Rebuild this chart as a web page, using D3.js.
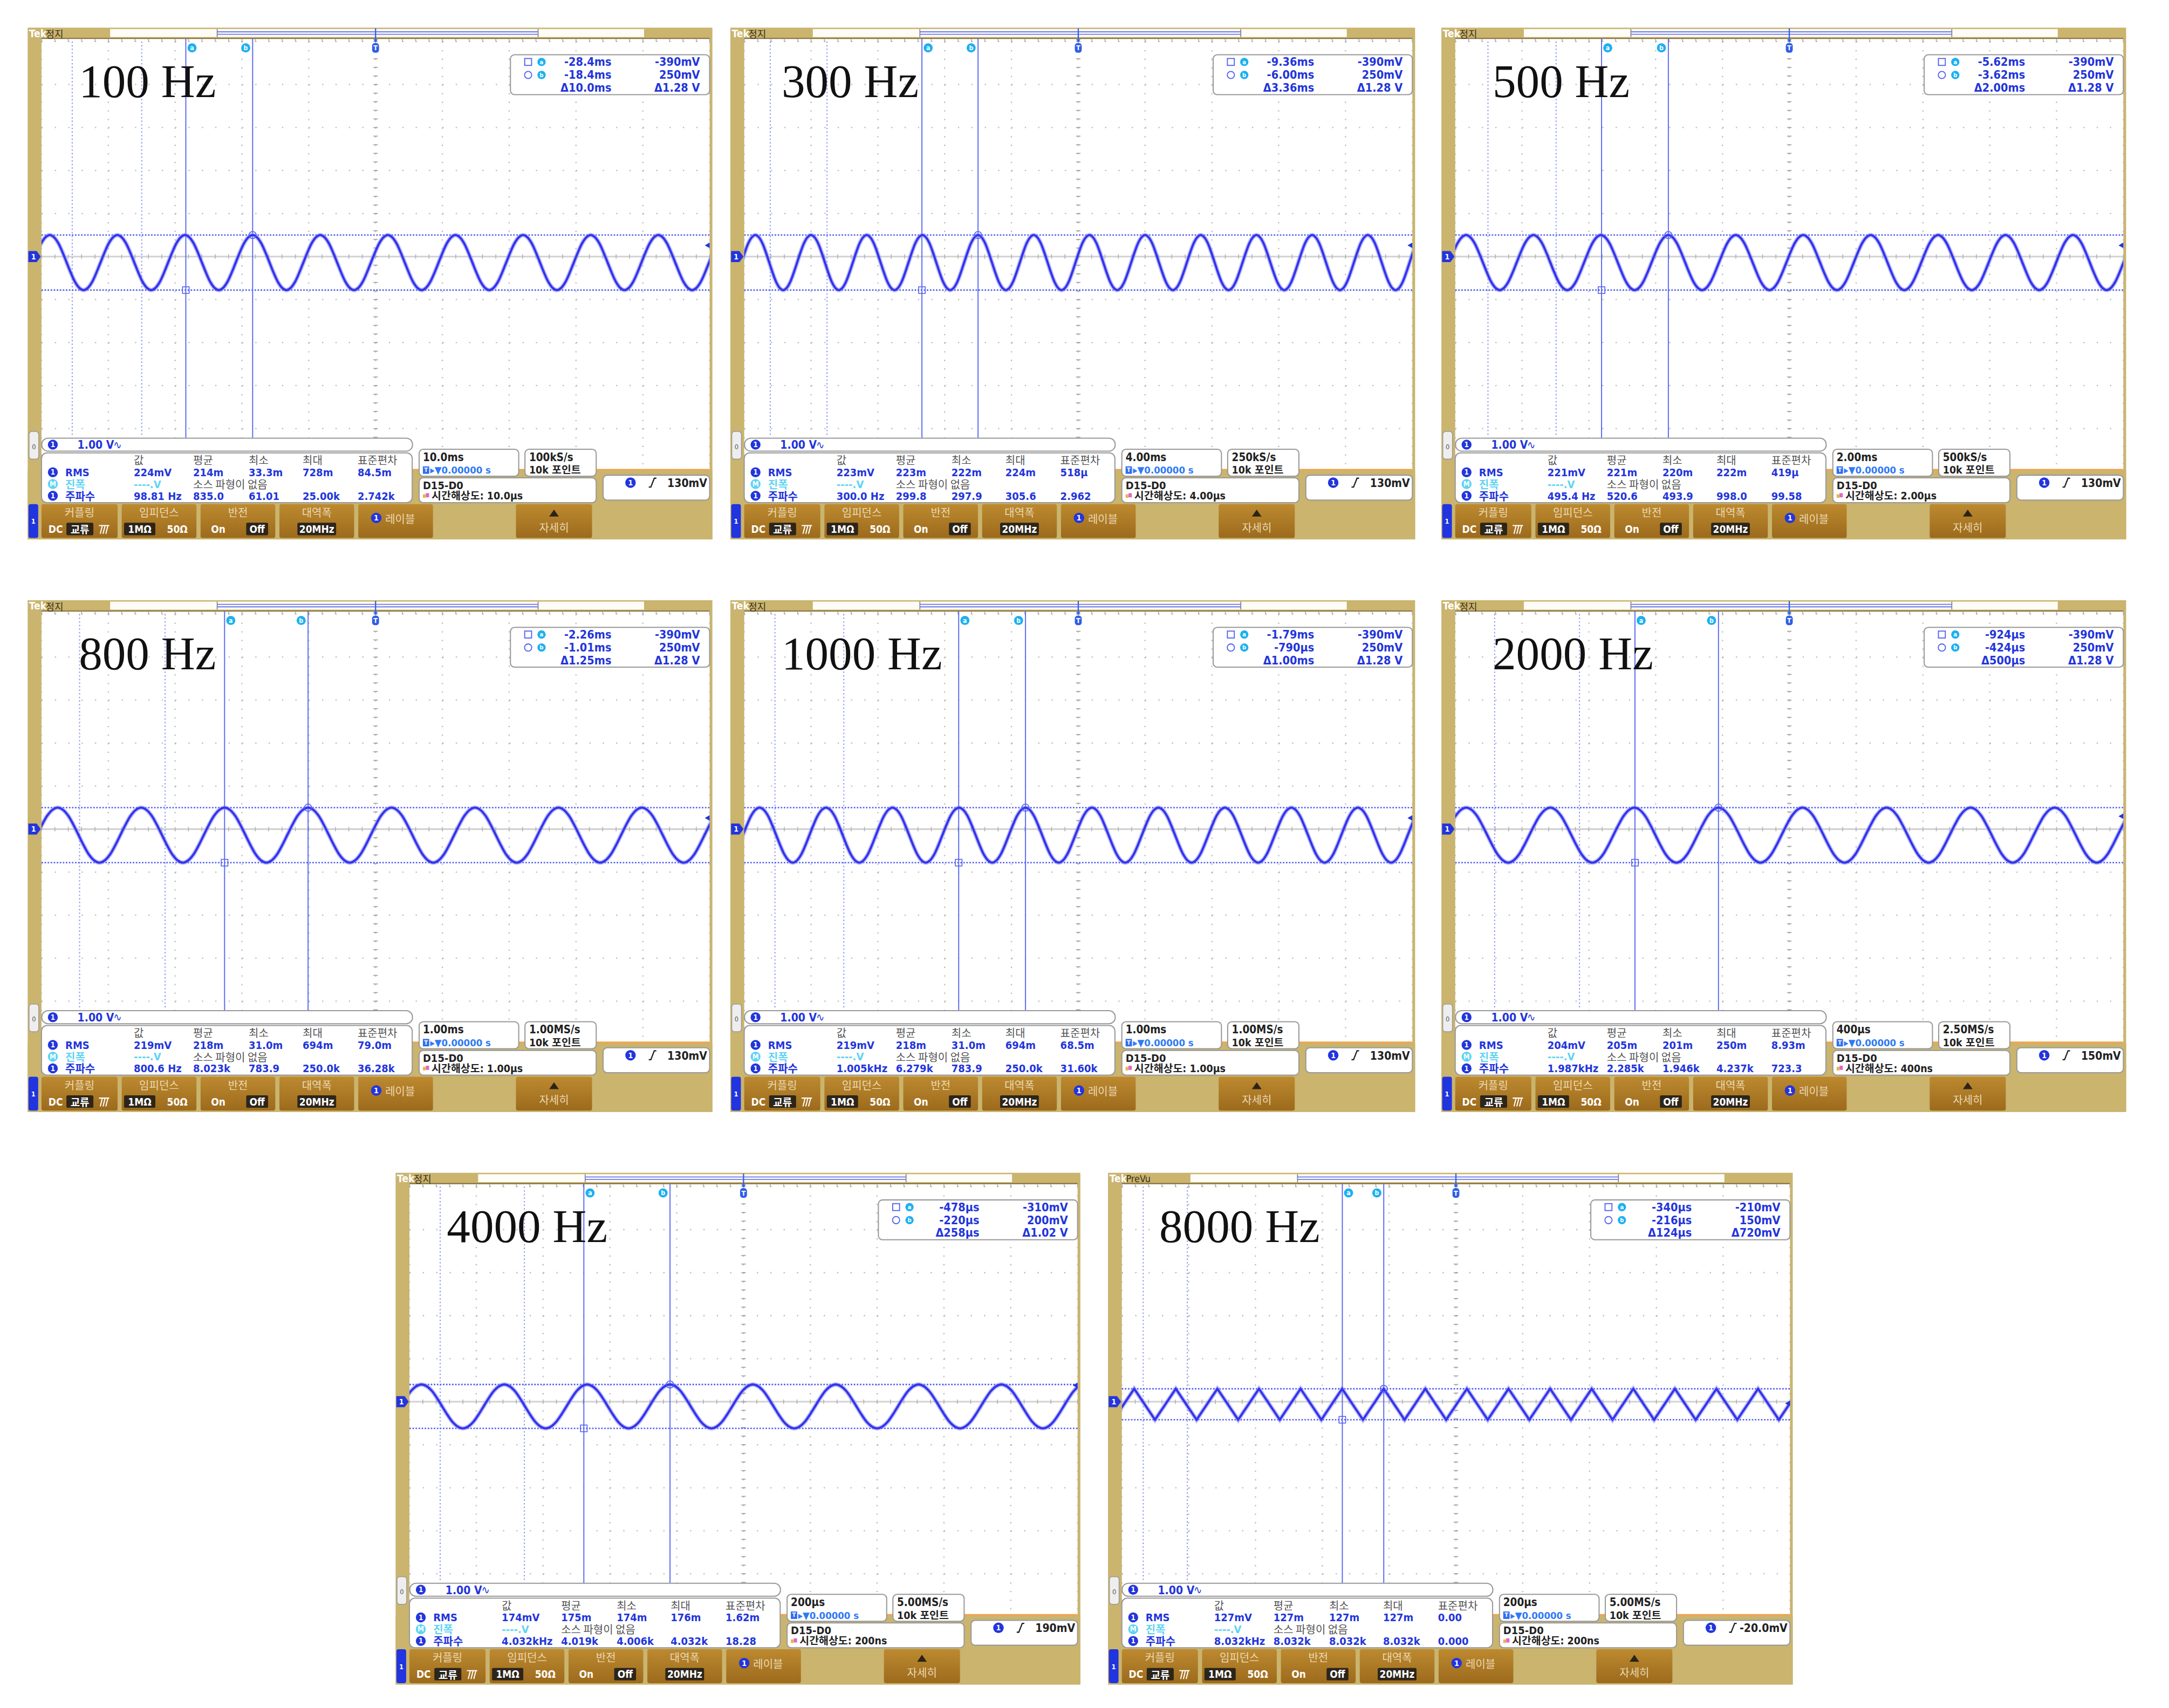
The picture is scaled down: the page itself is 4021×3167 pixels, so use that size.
<!DOCTYPE html>
<html>
<head>
<meta charset="utf-8">
<script src="https://cdn.jsdelivr.net/npm/d3@7"></script>
<style>
  body { margin: 0; background: #fff; }
  svg { display: block; }
  .ui { font-family: "DejaVu Sans Condensed", "DejaVu Sans", "Noto Sans CJK KR", sans-serif; font-stretch: condensed; }
  .kr { font-family: "Noto Sans CJK KR", "DejaVu Sans", sans-serif; }
  .big { font-family: "Liberation Serif", "Times New Roman", serif; }
</style>
</head>
<body>
<svg id="chart"></svg>
<script>
// ---- data read from the eight scope captures ----
const freqLabels = ["100 Hz", "300 Hz", "500 Hz", "800 Hz", "1000 Hz", "2000 Hz", "4000 Hz", "8000 Hz"];
const stateLabels = ["정지", "정지", "정지", "정지", "정지", "정지", "정지", "PreVu"];
const timePerDiv = [10e-3, 4e-3, 2e-3, 1e-3, 1e-3, 400e-6, 200e-6, 200e-6];
const timeDivText = ["10.0ms", "4.00ms", "2.00ms", "1.00ms", "1.00ms", "400µs", "200µs", "200µs"];
const sampleRateText = ["100kS/s", "250kS/s", "500kS/s", "1.00MS/s", "1.00MS/s", "2.50MS/s", "5.00MS/s", "5.00MS/s"];
const resolutionText = ["10.0µs", "4.00µs", "2.00µs", "1.00µs", "1.00µs", "400ns", "200ns", "200ns"];
const triggerText = ["130mV", "130mV", "130mV", "130mV", "130mV", "150mV", "190mV", "-20.0mV"];
const triggerLevel = [0.13, 0.13, 0.13, 0.13, 0.13, 0.15, 0.19, -0.02];
const measuredFreq = [98.81, 300.0, 495.4, 800.6, 1005, 1987, 4032, 8032];
const waveShape = ["sine", "sine", "sine", "sine", "sine", "sine", "sine", "triangle"];

// cursor readouts (a = trough line, b = crest line)
const cursorATime = [-28.4e-3, -9.36e-3, -5.62e-3, -2.26e-3, -1.79e-3, -924e-6, -478e-6, -340e-6];
const cursorBTime = [-18.4e-3, -6.00e-3, -3.62e-3, -1.01e-3, -790e-6, -424e-6, -220e-6, -216e-6];
const cursorAVolt = [-0.39, -0.39, -0.39, -0.39, -0.39, -0.39, -0.31, -0.21];
const cursorBVolt = [0.25, 0.25, 0.25, 0.25, 0.25, 0.25, 0.20, 0.15];
const cursorATimeText = ["-28.4ms", "-9.36ms", "-5.62ms", "-2.26ms", "-1.79ms", "-924µs", "-478µs", "-340µs"];
const cursorBTimeText = ["-18.4ms", "-6.00ms", "-3.62ms", "-1.01ms", "-790µs", "-424µs", "-220µs", "-216µs"];
const cursorDTimeText = ["Δ10.0ms", "Δ3.36ms", "Δ2.00ms", "Δ1.25ms", "Δ1.00ms", "Δ500µs", "Δ258µs", "Δ124µs"];
const cursorAVoltText = ["-390mV", "-390mV", "-390mV", "-390mV", "-390mV", "-390mV", "-310mV", "-210mV"];
const cursorBVoltText = ["250mV", "250mV", "250mV", "250mV", "250mV", "250mV", "200mV", "150mV"];
const cursorDVoltText = ["Δ1.28 V", "Δ1.28 V", "Δ1.28 V", "Δ1.28 V", "Δ1.28 V", "Δ1.28 V", "Δ1.02 V", "Δ720mV"];

// light blue reference markers, in divisions from the left edge
const refMarkDiv = [[0.46, 1.5], [0.39, 1.24], [0.49, 1.51], [0.57, 1.85], [0.46, 1.49], [0.59, 1.86], [0.46, 1.72], [0.32, 0.98]];

// measurement table: 값, 평균, 최소, 최대, 표준편차
const measHeaders = ["값", "평균", "최소", "최대", "표준편차"];
const rmsRow = [
  ["224mV", "214m", "33.3m", "728m", "84.5m"],
  ["223mV", "223m", "222m", "224m", "518µ"],
  ["221mV", "221m", "220m", "222m", "419µ"],
  ["219mV", "218m", "31.0m", "694m", "79.0m"],
  ["219mV", "218m", "31.0m", "694m", "68.5m"],
  ["204mV", "205m", "201m", "250m", "8.93m"],
  ["174mV", "175m", "174m", "176m", "1.62m"],
  ["127mV", "127m", "127m", "127m", "0.00"]
];
const freqRow = [
  ["98.81 Hz", "835.0", "61.01", "25.00k", "2.742k"],
  ["300.0 Hz", "299.8", "297.9", "305.6", "2.962"],
  ["495.4 Hz", "520.6", "493.9", "998.0", "99.58"],
  ["800.6 Hz", "8.023k", "783.9", "250.0k", "36.28k"],
  ["1.005kHz", "6.279k", "783.9", "250.0k", "31.60k"],
  ["1.987kHz", "2.285k", "1.946k", "4.237k", "723.3"],
  ["4.032kHz", "4.019k", "4.006k", "4.032k", "18.28"],
  ["8.032kHz", "8.032k", "8.032k", "8.032k", "0.000"]
];

// one period of the trace, starting at the crest
const sineCycle = [1, 0.92, 0.71, 0.38, 0, -0.38, -0.71, -0.92, -1, -0.92, -0.71, -0.38, 0, 0.38, 0.71, 0.92];
const triangleCycle = [1, 0.5, 0, -0.5, -1, -0.5, 0, 0.5];

// ---- layout ----
const k = 4021 / 1568;
const panelOrigin = [[20, 18], [528, 18], [1042, 18], [20, 432], [528, 432], [1042, 432], [286, 846], [801, 846]];

const GOLD = "#cab46e", GOLD_LINE = "#86703c", BLUE = "#2335dc", TRACE = "#3434ee",
      CURSOR = "#5a68f2", CYAN = "#1eb0f0", DARK = "#222", BOX_STROKE = "#999";

const svg = d3.select("#chart").attr("width", 4021).attr("height", 3167);
svg.append("rect").attr("width", 4021).attr("height", 3167).attr("fill", "#fff");

const defs = svg.append("defs");
const grad = defs.append("linearGradient").attr("id", "btnGrad").attr("x1", 0).attr("y1", 0).attr("x2", 0).attr("y2", 1);
grad.append("stop").attr("offset", "0%").attr("stop-color", "#bd8a30");
grad.append("stop").attr("offset", "100%").attr("stop-color", "#9c6a1c");

function chanBadge(g, x, y, r, label, fill) {
  g.append("circle").attr("cx", x).attr("cy", y).attr("r", r).attr("fill", fill);
  g.append("text").attr("class", "ui").attr("x", x).attr("y", y + r * 0.5)
    .attr("text-anchor", "middle").attr("font-size", r * 1.45).attr("font-weight", "bold")
    .attr("fill", "#fff").text(label);
}

function box(g, x, y, w, h, rx) {
  g.append("rect").attr("x", x).attr("y", y).attr("width", w).attr("height", h)
    .attr("rx", rx).attr("fill", "#fff").attr("stroke", BOX_STROKE).attr("stroke-width", 0.8);
}

function txt(g, x, y, s, size, fill, opts = {}) {
  return g.append("text").attr("class", opts.cls || "ui").attr("x", x).attr("y", y)
    .attr("font-size", size).attr("fill", fill)
    .attr("font-weight", opts.weight || "bold")
    .attr("text-anchor", opts.anchor || "start")
    .attr("dominant-baseline", "central").text(s);
}

function drawPanel(i) {
  const [ox, oy] = panelOrigin[i];
  const g = svg.append("g").attr("transform", `translate(${ox * k},${oy * k}) scale(${k})`);
  const td = timePerDiv[i];

  const x = d3.scaleLinear().domain([-5 * td, 5 * td]).range([10, 493]);
  // on-screen 1.00 V/div shows the readout values doubled, so 0.5 readout-V per division
  const y = d3.scaleLinear().domain([-2.5, 2.5]).range([323, 12]);

  // frame
  g.append("rect").attr("x", 0).attr("y", 2).attr("width", 495).attr("height", 370).attr("fill", GOLD);
  g.append("rect").attr("x", 10).attr("y", 10).attr("width", 483).attr("height", 312).attr("fill", "#fff");
  g.append("line").attr("x1", 10).attr("x2", 493).attr("y1", 9.8).attr("y2", 9.8)
    .attr("stroke", GOLD_LINE).attr("stroke-width", 0.8);

  // top bar
  txt(g, 1, 6.2, "Tek", 7.5, "#fff");
  txt(g, 13, 6.2, stateLabels[i], 7, "#3b321c", { cls: stateLabels[i] === "PreVu" ? "ui" : "kr", weight: "normal" });
  g.append("rect").attr("x", 59.6).attr("y", 3).attr("width", 386).attr("height", 5.8).attr("fill", "#fdfcf6");
  [137, 369].forEach(v => g.append("line").attr("x1", v).attr("x2", v).attr("y1", 3).attr("y2", 8.8)
    .attr("stroke", "#777").attr("stroke-width", 0.6));
  [5, 6.8].forEach(v => g.append("line").attr("x1", 137).attr("x2", 369).attr("y1", v).attr("y2", v)
    .attr("stroke", "#6b78f2").attr("stroke-width", 0.7));

  // grid
  const grid = g.append("g");
  const vDivs = d3.range(11).map(j => -5 * td + j * td);
  const hDivs = d3.range(11).map(j => -2.5 + j * 0.5);
  const minorY = (y(-2.5) - y(2.5)) / 50, minorX = (x(5 * td) - x(-5 * td)) / 50;
  grid.selectAll(".vg").data(vDivs).join("line")
    .attr("x1", d => x(d)).attr("x2", d => x(d)).attr("y1", 12).attr("y2", 323)
    .attr("stroke", "#b9b9b9").attr("stroke-width", 0.9)
    .attr("stroke-dasharray", `0.9 ${minorY - 0.9}`);
  grid.selectAll(".hg").data(hDivs).join("line")
    .attr("x1", 10).attr("x2", 493).attr("y1", d => y(d)).attr("y2", d => y(d))
    .attr("stroke", "#b9b9b9").attr("stroke-width", 0.9)
    .attr("stroke-dasharray", `0.9 ${minorX - 0.9}`);
  // centre crosshair and edge ticks
  grid.append("line").attr("x1", 10).attr("x2", 493).attr("y1", y(0)).attr("y2", y(0))
    .attr("stroke", "#d2d2d2").attr("stroke-width", 1.2);
  grid.selectAll(".ty").data(d3.range(51)).join("line")
    .attr("x1", x(0) - 1.6).attr("x2", x(0) + 1.6)
    .attr("y1", d => 12 + d * minorY).attr("y2", d => 12 + d * minorY)
    .attr("stroke", "#9c9c9c").attr("stroke-width", 0.6);
  grid.selectAll(".tx").data(d3.range(51)).join("line")
    .attr("x1", d => 10 + d * minorX).attr("x2", d => 10 + d * minorX)
    .attr("y1", y(0) - 1.6).attr("y2", y(0) + 1.6)
    .attr("stroke", "#b0b0b0").attr("stroke-width", 0.6);
  grid.selectAll(".tt").data(d3.range(51)).join("line")
    .attr("x1", d => 10 + d * minorX).attr("x2", d => 10 + d * minorX)
    .attr("y1", 10).attr("y2", 12.2)
    .attr("stroke", "#a8a8a8").attr("stroke-width", 0.6);

  // reference markers
  g.selectAll(".ref").data(refMarkDiv[i]).join("line")
    .attr("x1", d => x(-5 * td + d * td)).attr("x2", d => x(-5 * td + d * td))
    .attr("y1", 12).attr("y2", 298)
    .attr("stroke", "#8c98f6").attr("stroke-width", 0.8).attr("stroke-dasharray", "1 1.6");

  // horizontal cursor lines
  [cursorAVolt[i], cursorBVolt[i]].forEach(v => g.append("line")
    .attr("x1", 10).attr("x2", 493).attr("y1", y(v)).attr("y2", y(v))
    .attr("stroke", "#4d5cf0").attr("stroke-width", 1).attr("stroke-dasharray", "1.1 1.1"));

  // vertical cursor lines
  [cursorATime[i], cursorBTime[i]].forEach(t => g.append("line")
    .attr("x1", x(t)).attr("x2", x(t)).attr("y1", 10).attr("y2", 298.8)
    .attr("stroke", CURSOR).attr("stroke-width", 0.75));

  // trace
  const clipId = "clip" + i;
  defs.append("clipPath").attr("id", clipId).append("rect")
    .attr("x", 10).attr("y", 10).attr("width", 483).attr("height", 313);
  const period = 1 / measuredFreq[i];
  const shape = waveShape[i] === "triangle" ? triangleCycle : sineCycle;
  const mid = (cursorAVolt[i] + cursorBVolt[i]) / 2;
  const amp = (cursorBVolt[i] - cursorAVolt[i]) / 2;
  const c0 = Math.floor((-5 * td - cursorBTime[i]) / period) - 1;
  const c1 = Math.ceil((5 * td - cursorBTime[i]) / period) + 1;
  const pts = [];
  for (let c = c0; c <= c1; c++) {
    shape.forEach((s, j) => pts.push([cursorBTime[i] + (c + j / shape.length) * period, mid + amp * s]));
  }
  const line = d3.line().x(d => x(d[0])).y(d => y(d[1]))
    .curve(waveShape[i] === "triangle" ? d3.curveLinear : d3.curveCatmullRom);
  const tg = g.append("g").attr("clip-path", `url(#${clipId})`);
  tg.append("path").attr("d", line(pts)).attr("fill", "none")
    .attr("stroke", "#8a8af6").attr("stroke-width", 3.2).attr("opacity", 0.5);
  tg.append("path").attr("d", line(pts)).attr("fill", "none")
    .attr("stroke", TRACE).attr("stroke-width", 1.6);

  // cursor markers on the waveform
  g.append("rect").attr("x", x(cursorATime[i]) - 2.4).attr("y", y(cursorAVolt[i]) - 2.4)
    .attr("width", 4.8).attr("height", 4.8).attr("fill", "none").attr("stroke", "#4d5cf0").attr("stroke-width", 0.6);
  g.append("circle").attr("cx", x(cursorBTime[i])).attr("cy", y(cursorBVolt[i])).attr("r", 2.6)
    .attr("fill", "none").attr("stroke", "#4d5cf0").attr("stroke-width", 0.6);

  // cursor labels and trigger marker
  chanBadge(g, x(cursorATime[i]) + 4.5, 16.6, 3.3, "a", CYAN);
  chanBadge(g, x(cursorBTime[i]) - 5, 16.6, 3.3, "b", CYAN);
  g.append("line").attr("x1", x(0)).attr("x2", x(0)).attr("y1", 2.5).attr("y2", 12)
    .attr("stroke", "#2f5fe6").attr("stroke-width", 0.9);
  g.append("path").attr("d", `M${x(0) - 1.6},10.5 L${x(0) + 1.6},10.5 L${x(0)},12.6 Z`).attr("fill", "#2f5fe6");
  g.append("rect").attr("x", x(0) - 2.5).attr("y", 13.1).attr("width", 5).attr("height", 7).attr("rx", 2).attr("fill", "#2f5fe6");
  txt(g, x(0), 16.6, "T", 5, "#fff", { anchor: "middle" });

  // ground marker and trigger level marker
  g.append("path").attr("d", `M0.5,${y(0) - 4} H6.5 L9.5,${y(0)} L6.5,${y(0) + 4} H0.5 Z`).attr("fill", BLUE);
  txt(g, 4.2, y(0), "1", 5.5, "#fff", { anchor: "middle" });
  g.append("path").attr("d", `M493,${y(triggerLevel[i]) - 2} L489.5,${y(triggerLevel[i])} L493,${y(triggerLevel[i]) + 2} Z`)
    .attr("fill", BLUE);

  // digital group marker
  g.append("rect").attr("x", 1).attr("y", 294).attr("width", 7).attr("height", 20).attr("rx", 2)
    .attr("fill", "#eee").attr("stroke", "#999").attr("stroke-width", 0.6);
  txt(g, 4.5, 305, "0", 5, "#555", { anchor: "middle", weight: "normal" });

  // frequency label
  g.append("text").attr("class", "big").attr("x", 37).attr("y", 52).attr("font-size", 34)
    .attr("fill", "#111").text(freqLabels[i]);

  // cursor readout box
  box(g, 349, 21.6, 144, 28.8, 3);
  g.append("rect").attr("x", 359.3).attr("y", 24.3).attr("width", 5).attr("height", 5)
    .attr("fill", "none").attr("stroke", "#4d5cf0").attr("stroke-width", 0.7);
  g.append("circle").attr("cx", 361.8).attr("cy", 36.2).attr("r", 2.6)
    .attr("fill", "none").attr("stroke", "#4d5cf0").attr("stroke-width", 0.7);
  chanBadge(g, 371.5, 26.8, 3, "a", CYAN);
  chanBadge(g, 371.5, 36.2, 3, "b", CYAN);
  const rows = [[cursorATimeText[i], cursorAVoltText[i]], [cursorBTimeText[i], cursorBVoltText[i]], [cursorDTimeText[i], cursorDVoltText[i]]];
  rows.forEach((r, j) => {
    txt(g, 422, 26.8 + j * 9.3, r[0], 8.4, BLUE, { anchor: "end" });
    txt(g, 486, 26.8 + j * 9.3, r[1], 8.4, BLUE, { anchor: "end" });
  });

  // bottom area background (gold below graticule)
  g.append("rect").attr("x", 0).attr("y", 322).attr("width", 495).attr("height", 50).attr("fill", GOLD);
  g.append("line").attr("x1", 278).attr("x2", 493).attr("y1", 321.6).attr("y2", 321.6)
    .attr("stroke", "#f3a24a").attr("stroke-width", 1.1);

  // channel box
  box(g, 10.2, 298.8, 268, 9.4, 4.5);
  chanBadge(g, 18.2, 303.5, 3.6, "1", BLUE);
  txt(g, 36, 303.6, "1.00 V", 8.2, BLUE);
  txt(g, 62, 303.6, "∿", 8, BLUE, { weight: "normal" });

  // measurement box
  box(g, 10, 309.5, 268, 35.9, 4);
  const cols = [76.7, 119.6, 159.8, 198.8, 238.5];
  measHeaders.forEach((h, j) => txt(g, cols[j], 314.6, h, 7.8, "#555", { cls: "kr", weight: "normal" }));
  chanBadge(g, 18.2, 323.5, 3.6, "1", BLUE);
  txt(g, 27.2, 323.6, "RMS", 7.8, BLUE);
  rmsRow[i].forEach((v, j) => txt(g, cols[j], 323.6, v, 7.8, BLUE));
  chanBadge(g, 18.2, 332, 3.6, "M", "#5fd4f2");
  txt(g, 27.2, 332, "진폭", 7.8, "#5fd4f2", { cls: "kr" });
  txt(g, 76.7, 332, "----.V", 7.8, "#5fd4f2");
  txt(g, 119.6, 332, "소스 파형이 없음", 7.8, "#555", { cls: "kr", weight: "normal" });
  chanBadge(g, 18.2, 340.5, 3.6, "1", BLUE);
  txt(g, 27.2, 340.5, "주파수", 7.8, BLUE, { cls: "kr" });
  freqRow[i].forEach((v, j) => txt(g, cols[j], 340.6, v, 7.8, BLUE));

  // timebase / sample / resolution / trigger boxes
  box(g, 283, 306.8, 72, 19.5, 3);
  txt(g, 285.7, 312.6, timeDivText[i], 8, DARK);
  g.append("rect").attr("x", 285.7).attr("y", 319.2).attr("width", 4.6).attr("height", 5.4).attr("fill", "#2f6ff0");
  txt(g, 288, 321.9, "T", 4.4, "#fff", { anchor: "middle" });
  txt(g, 291, 322, "▸▼0.00000 s", 7.2, "#2f7af5");
  box(g, 359.5, 306.8, 51.5, 19.5, 3);
  txt(g, 362.5, 312.6, sampleRateText[i], 8, DARK);
  txt(g, 362.5, 322, "10k 포인트", 7.6, DARK);
  box(g, 283, 327.5, 128, 17.9, 3);
  txt(g, 285.7, 333, "D15-D0", 7.8, DARK);
  g.append("rect").attr("x", 285.7).attr("y", 339.4).attr("width", 2).attr("height", 2.6).attr("fill", "#e7b84a");
  g.append("rect").attr("x", 287.8).attr("y", 338.6).attr("width", 2.4).attr("height", 3).attr("fill", "#e066c8");
  txt(g, 292, 340.6, "시간해상도: " + resolutionText[i], 7.6, DARK);
  box(g, 416, 325.6, 77, 18, 3);
  chanBadge(g, 435.8, 331, 3.8, "1", BLUE);
  g.append("path").attr("d", "M449,334.2 h1.5 L453,327.8 h1.5").attr("fill", "none")
    .attr("stroke", DARK).attr("stroke-width", 0.9);
  txt(g, 491.2, 331.2, triggerText[i], 8.2, DARK, { anchor: "end" });

  // bottom buttons
  g.append("rect").attr("x", 0.6).attr("y", 346.5).attr("width", 7).attr("height", 24.5).attr("rx", 1.5).attr("fill", "#2034e0");
  txt(g, 4.1, 359, "1", 5, "#fff", { anchor: "middle" });
  const btns = [[10, 55], [68, 54], [125, 54], [182, 54], [239, 54], [353, 55]];
  btns.forEach(b => g.append("rect").attr("x", b[0]).attr("y", 346.5).attr("width", b[1]).attr("height", 24.5)
    .attr("rx", 1.5).attr("fill", "url(#btnGrad)"));
  const LBL = "#ead9b4";
  const sel = (x0, w, s) => {
    g.append("rect").attr("x", x0).attr("y", 360).attr("width", w).attr("height", 9).attr("rx", 1).attr("fill", "#2c251a");
    txt(g, x0 + w / 2, 364.5, s, 7.4, "#fff", { anchor: "middle", cls: /[가-힣]/.test(s) ? "kr" : "ui" });
  };
  txt(g, 37.5, 352.3, "커플링", 7.8, LBL, { anchor: "middle", cls: "kr", weight: "normal" });
  txt(g, 15, 364.5, "DC", 7.4, "#fff");
  sel(28, 19.5, "교류");
  g.append("path").attr("d", "M52.5,368 L54,362 M54.5,368 L56,362 M56.5,368 L58,362 M51.5,362 H59").attr("stroke", "#fff")
    .attr("stroke-width", 0.8).attr("fill", "none");
  txt(g, 95, 352.3, "임피던스", 7.8, LBL, { anchor: "middle", cls: "kr", weight: "normal" });
  sel(69.7, 22.6, "1MΩ");
  txt(g, 108.2, 364.5, "50Ω", 7.4, "#fff", { anchor: "middle" });
  txt(g, 152, 352.3, "반전", 7.8, LBL, { anchor: "middle", cls: "kr", weight: "normal" });
  txt(g, 137.8, 364.5, "On", 7.4, "#fff", { anchor: "middle" });
  sel(158, 15.8, "Off");
  txt(g, 209, 352.3, "대역폭", 7.8, LBL, { anchor: "middle", cls: "kr", weight: "normal" });
  sel(195, 28, "20MHz");
  chanBadge(g, 252, 356.5, 3.8, "1", BLUE);
  txt(g, 258.5, 356.8, "레이블", 7.8, LBL, { cls: "kr", weight: "normal" });
  g.append("path").attr("d", "M377,355.5 L380.5,350.5 L384,355.5 Z").attr("fill", "#2a2418");
  txt(g, 380.5, 363, "자세히", 7.8, LBL, { anchor: "middle", cls: "kr", weight: "normal" });
}

d3.range(8).forEach(drawPanel);
</script>
</body>
</html>
